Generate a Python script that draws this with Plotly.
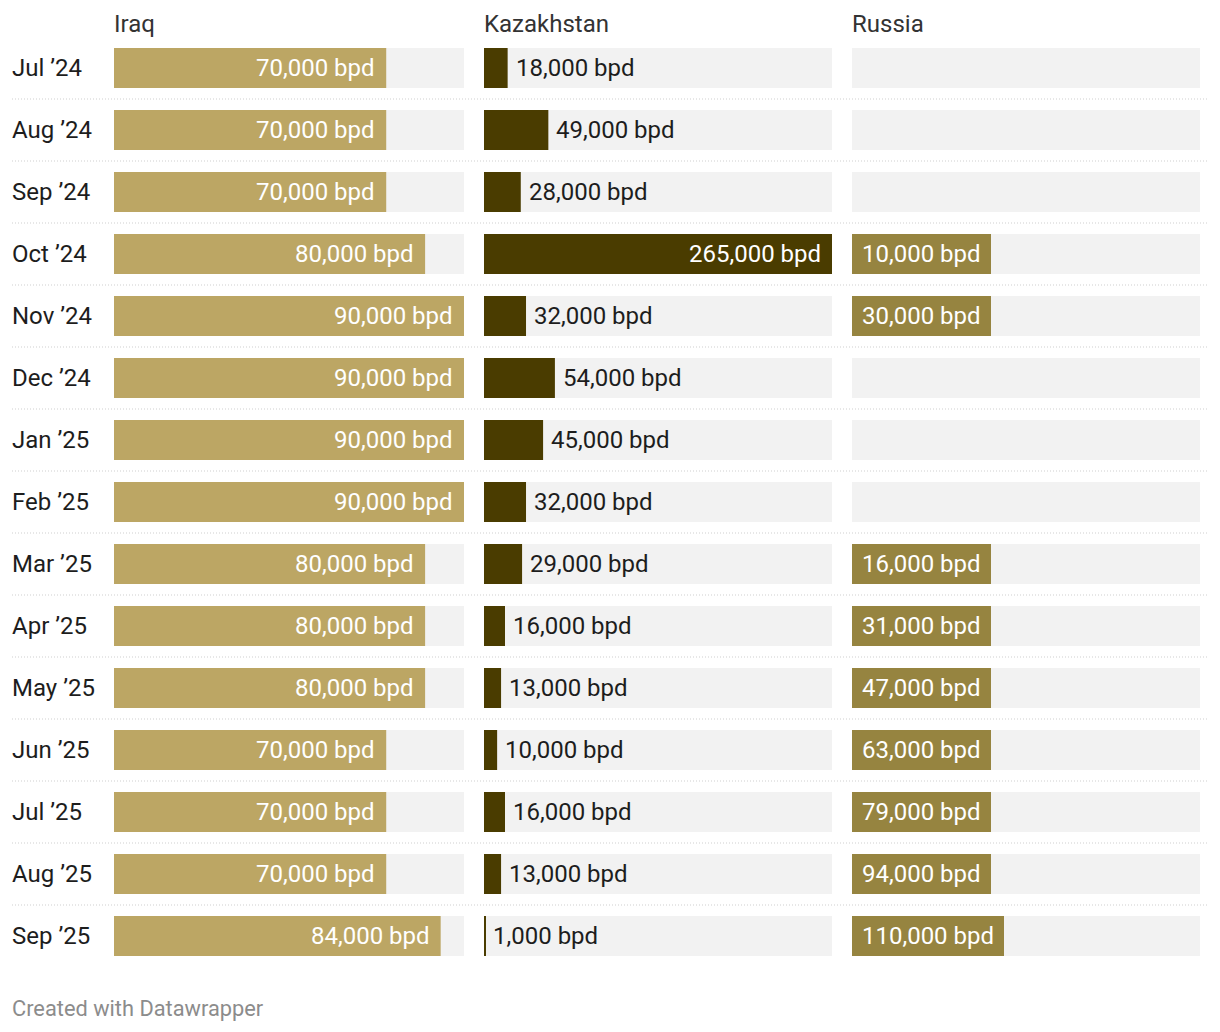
import plotly.graph_objects as go

# ---- data ----
months = ["Jul ’24", "Aug ’24", "Sep ’24", "Oct ’24", "Nov ’24", "Dec ’24", "Jan ’25",
          "Feb ’25", "Mar ’25", "Apr ’25", "May ’25", "Jun ’25", "Jul ’25", "Aug ’25", "Sep ’25"]
iraq = [70000, 70000, 70000, 80000, 90000, 90000, 90000, 90000, 80000, 80000, 80000,
        70000, 70000, 70000, 84000]
kazakhstan = [18000, 49000, 28000, 265000, 32000, 54000, 45000, 32000, 29000, 16000,
              13000, 10000, 16000, 13000, 1000]
russia = [None, None, None, 10000, 30000, None, None, None, 16000, 31000, 47000,
          63000, 79000, 94000, 110000]
columns = ["Iraq", "Kazakhstan", "Russia"]

# ---- style ----
W, H = 1220, 1032
FONT = "Roboto"
C_IRAQ = "#bca664"
C_KAZ = "#4a3c00"
C_RUS = "#968440"
C_BG = "#f2f2f2"
TXT = "#1d1d1d"
FS = 24

row0, step, barh = 68, 62, 40
n = len(months)
idx = list(range(n))
ytop = -row0 / step
ybot = (H - row0) / step
bw = barh / step

doms = [(114 / W, 464 / W), (484 / W, 832 / W), (852 / W, 1200 / W)]

fig = go.Figure()

def fmt(v):
    return f"{v:,} bpd"

NOPAD = dict(borderpad=0, borderwidth=0, showarrow=False)

# Iraq bars
fig.add_trace(go.Bar(x=iraq, y=idx, orientation="h", width=bw, marker_color=C_IRAQ,
                     marker_line_width=0, xaxis="x", yaxis="y", hoverinfo="skip"))
# Kazakhstan bars
fig.add_trace(go.Bar(x=kazakhstan, y=idx, orientation="h", width=bw, marker_color=C_KAZ,
                     marker_line_width=0, xaxis="x2", yaxis="y", hoverinfo="skip"))

shapes = []
annotations = []
for i in idx:
    for k in range(3):
        shapes.append(dict(type="rect", xref="paper", yref="y", x0=doms[k][0], x1=doms[k][1],
                           y0=i - bw / 2, y1=i + bw / 2, fillcolor=C_BG,
                           line_width=0, layer="below"))
    # row label
    annotations.append(dict(text=months[i], xref="paper", yref="y", x=12 / W, y=i,
                            xanchor="left", yanchor="middle", **NOPAD,
                            font=dict(family=FONT, size=FS, color=TXT)))
    # iraq label (inside)
    annotations.append(dict(text=fmt(iraq[i]), xref="x", yref="y", x=iraq[i], y=i,
                            xanchor="right", yanchor="middle", xshift=-11, **NOPAD,
                            font=dict(family=FONT, size=FS, color="#ffffff")))
    # kazakhstan label
    v = kazakhstan[i]
    inside = v > 0.6 * max(kazakhstan)
    annotations.append(dict(text=fmt(v), xref="x2", yref="y", x=v, y=i,
                            xanchor="right" if inside else "left", yanchor="middle",
                            xshift=-11 if inside else 8, **NOPAD,
                            font=dict(family=FONT, size=FS,
                                      color="#ffffff" if inside else TXT)))
    # russia label-box
    if russia[i] is not None:
        annotations.append(dict(text="&nbsp;" + fmt(russia[i]) + "&nbsp;",
                                xref="paper", yref="y", x=doms[2][0], y=i,
                                xanchor="left", yanchor="middle", showarrow=False,
                                height=barh - 8, borderpad=4, borderwidth=0, bgcolor=C_RUS,
                                font=dict(family=FONT, size=FS, color="#ffffff")))
    # separator
    if i < n - 1:
        shapes.append(dict(type="line", xref="paper", yref="y", x0=12 / W, x1=1208 / W,
                           y0=i + 0.5, y1=i + 0.5,
                           line=dict(color="#cfcfcf", width=1, dash="1px,2px")))

for k, name in enumerate(columns):
    annotations.append(dict(text=name, xref="paper", yref="paper", x=doms[k][0],
                            y=1 - 24 / H, xanchor="left", yanchor="middle", **NOPAD,
                            font=dict(family=FONT, size=FS, color="#333333")))

annotations.append(dict(text="Created with Datawrapper", xref="paper", yref="paper",
                        x=12 / W, y=1 - 1008 / H, xanchor="left", yanchor="middle",
                        **NOPAD, font=dict(family=FONT, size=21.8, color="#8c8c8c")))

axcommon = dict(visible=False, showgrid=False, zeroline=False, fixedrange=True)
fig.update_layout(
    width=W, height=H,
    margin=dict(l=0, r=0, t=0, b=0),
    paper_bgcolor="white", plot_bgcolor="white",
    showlegend=False, barmode="overlay",
    xaxis=dict(domain=list(doms[0]), range=[0, max(iraq)], anchor="y", **axcommon),
    xaxis2=dict(domain=list(doms[1]), range=[0, max(kazakhstan)], anchor="y", **axcommon),
    yaxis=dict(domain=[0, 1], range=[ybot, ytop], autorange=False, **axcommon),
    shapes=shapes, annotations=annotations,
    font=dict(family=FONT),
)

fig.write_html("out.html", config={"displayModeBar": False},
               post_script="document.body.style.margin='0';document.body.style.overflow='hidden';")
